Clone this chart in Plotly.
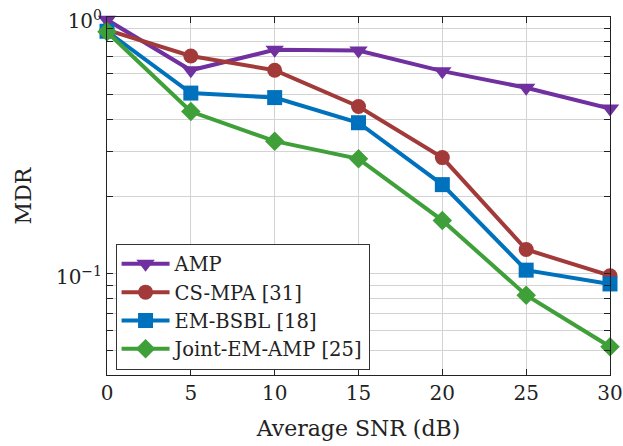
import plotly.graph_objects as go

snr = [0, 5, 10, 15, 20, 25, 30]
amp = [0.975, 0.62, 0.745, 0.74, 0.615, 0.53, 0.44]
cs_mpa = [0.89, 0.705, 0.62, 0.448, 0.283, 0.124, 0.098]
em_bsbl = [0.88, 0.505, 0.485, 0.387, 0.222, 0.103, 0.091]
joint_em_amp = [0.875, 0.428, 0.328, 0.28, 0.161, 0.0823, 0.0518]

names = ["AMP", "CS-MPA [31]", "EM-BSBL [18]", "Joint-EM-AMP [25]"]
series = [amp, cs_mpa, em_bsbl, joint_em_amp]
colors = ["#7030A0", "#A33A3A", "#0072BD", "#3FA03A"]
symbols = ["triangle-down", "circle", "square", "diamond"]
sizes = [16, 15, 15, 15]

x_ticks = [0, 5, 10, 15, 20, 25, 30]
y_tickvals = [0.05, 0.06, 0.07, 0.08, 0.09, 0.1, 0.2, 0.3, 0.4, 0.5, 0.6, 0.7, 0.8, 0.9, 1.0]
y_ticktext = ["", "", "", "", "", "10<sup>\u22121</sup>", "", "", "", "", "", "", "", "", "10<sup>0</sup>"]

FONT = "DejaVu Serif"

fig = go.Figure()
for name, ys, c, s, sz in zip(names, series, colors, symbols, sizes):
    fig.add_trace(go.Scatter(
        x=snr, y=ys, name=name, mode="lines+markers",
        line=dict(color=c, width=4),
        marker=dict(symbol=s, size=sz, color=c, line=dict(width=0)),
        cliponaxis=False,
    ))

fig.update_layout(
    width=623, height=446,
    margin=dict(l=107, r=13, t=16.5, b=71, autoexpand=False),
    paper_bgcolor="white", plot_bgcolor="white",
    font=dict(family=FONT, color="#222"),
    showlegend=True,
    legend=dict(
        x=0.017, y=0.015, xanchor="left", yanchor="bottom",
        bordercolor="#333", borderwidth=1, bgcolor="white",
        font=dict(family=FONT, size=19.5, color="#222"),
        tracegroupgap=0, itemwidth=48,
    ),
)
fig.update_xaxes(
    range=[0, 30], tickvals=x_ticks, ticks="inside", ticklen=6, tickcolor="#222",
    showline=True, linecolor="#222", linewidth=1, mirror="ticks",
    showgrid=True, gridcolor="#d3d3d3", gridwidth=1, zeroline=False, automargin=False,
    ticklabeloverflow="allow",
    tickfont=dict(family=FONT, size=20, color="#222"),
    title=dict(text="Average SNR (dB)", font=dict(family=FONT, size=22, color="#222"), standoff=16),
)
fig.update_yaxes(
    type="log", range=[-1.396, 0], tickvals=y_tickvals, ticktext=y_ticktext,
    ticks="inside", ticklen=6, tickcolor="#222",
    showline=True, linecolor="#222", linewidth=1, mirror="ticks",
    showgrid=True, gridcolor="#d3d3d3", gridwidth=1, zeroline=False, automargin=False,
    ticklabeloverflow="allow", ticklabelshift=4,
    tickfont=dict(family=FONT, size=20, color="#222"),
    title=dict(text="MDR", font=dict(family=FONT, size=22, color="#222"), standoff=18),
)

fig.write_html("out.html", config={"displayModeBar": False},
               post_script="document.body.style.margin='0';")
